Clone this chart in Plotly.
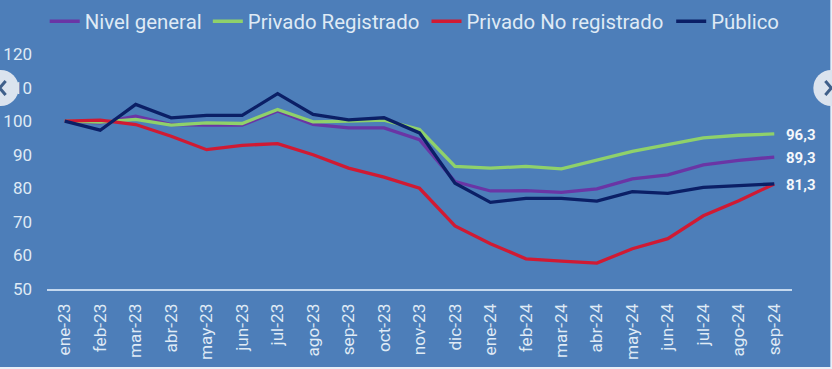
import plotly.graph_objects as go

months = ["ene-23","feb-23","mar-23","abr-23","may-23","jun-23","jul-23","ago-23","sep-23","oct-23","nov-23","dic-23",
          "ene-24","feb-24","mar-24","abr-24","may-24","jun-24","jul-24","ago-24","sep-24"]
nivel_general = [100,99.5,101.5,99,98.8,98.8,103,99,98,98,94.5,82,79.2,79.3,78.8,79.8,82.8,84,87,88.3,89.3]
privado_registrado = [100,99.7,100.5,98.8,99.5,99.3,103.5,99.8,100,100.3,97.5,86.5,86,86.5,85.8,88.3,91,93,95,95.8,96.2]
privado_no_registrado = [100,100.3,99,95.5,91.5,92.8,93.3,90,86,83.3,80,68.8,63.5,59,58.3,57.7,62,65,71.8,76.3,81.3]
publico = [100,97.3,105,101,101.7,101.7,108.2,102,100.4,101,96.5,81.5,75.8,77,77,76.2,79,78.5,80.3,80.8,81.3]
end_labels = ["96,3","89,3","81,3"]

W, H = 832, 369
L, R, T, B = 47.3, 791.7, 54, 289
BG = "#4d7eb9"
TXT = "#dfeaf5"

def px(x): return (x - L) / (R - L)
def py(y): return (B - y) / (B - T)

fig = go.Figure()
series = [("Nivel general", nivel_general, "#6a35a5", "legend", 45),
          ("Privado Registrado", privado_registrado, "#8fd16a", "legend2", 208),
          ("Privado No registrado", privado_no_registrado, "#d01a33", "legend3", 426.5),
          ("Público", publico, "#0b1f66", "legend4", 671)]
for name, vals, col, leg, _ in series:
    fig.add_trace(go.Scatter(x=months, y=vals, mode="lines", name=name, legend=leg,
                             line=dict(color=col, width=3.3)))

for lab, yv in zip(end_labels, [privado_registrado[-1], nivel_general[-1], publico[-1]]):
    fig.add_annotation(x=months[-1], y=yv, text=f"<b>{lab}</b>", showarrow=False, xanchor="left",
                       xshift=10, yshift=-1, font=dict(family="Roboto", size=15, color="#f4f7fb"))

def circle(cx, cy, r):
    return dict(type="circle", xref="paper", yref="paper", xsizemode="pixel", ysizemode="pixel",
                xanchor=px(cx), yanchor=py(cy), x0=-r, x1=r, y0=-r, y1=r,
                fillcolor="#dbe3ee", line_width=0, layer="above")
def chevron(cx, cy, d):
    return dict(type="path", xref="paper", yref="paper", xsizemode="pixel", ysizemode="pixel",
                xanchor=px(cx), yanchor=py(cy), path=f"M {-d*3},7 L {d*3},0 L {-d*3},-7",
                line=dict(color="#3f5f8a", width=3), layer="above")

fig.update_layout(shapes=[
    dict(type="rect", xref="paper", yref="paper", x0=px(0), x1=px(830), y0=py(367), y1=py(0),
         fillcolor=BG, line_width=0, layer="below"),
    circle(1, 88, 18), circle(831, 88, 18), chevron(3, 88, -1), chevron(828, 88, 1),
])

legend_common = dict(orientation="h", xanchor="left", yanchor="middle", y=py(21.5),
                     font=dict(family="Roboto", size=20.4, color=TXT),
                     bgcolor="rgba(0,0,0,0)", itemwidth=30, borderwidth=0)
layout_legends = {leg: dict(legend_common, x=px(x)) for _, _, _, leg, x in series}

fig.update_layout(
    width=W, height=H, autosize=False,
    margin=dict(l=L, r=W - R, t=T, b=H - B, pad=0, autoexpand=False),
    paper_bgcolor="#e9eff7", plot_bgcolor=BG,
    font=dict(family="Roboto", color=TXT),
    showlegend=True,
    xaxis=dict(type="category", range=[-0.5, 20.5], tickangle=-90, showgrid=False, ticks="",
               showline=True, linecolor="#c4d8ee", linewidth=1.5, tickfont=dict(family="Roboto", size=17.2, color=TXT),
               ticklabelstandoff=6, zeroline=False),
    yaxis=dict(range=[50, 120], tickvals=[50,60,70,80,90,100,110,120], showgrid=False, ticks="",
               showline=False, zeroline=False, ticklabelstandoff=14, tickfont=dict(family="Roboto", size=17, color=TXT)),
    **layout_legends,
)
fig.write_html("out.html", config={"displayModeBar": False},
               post_script="document.body.style.margin='0';document.body.style.overflow='hidden';")
